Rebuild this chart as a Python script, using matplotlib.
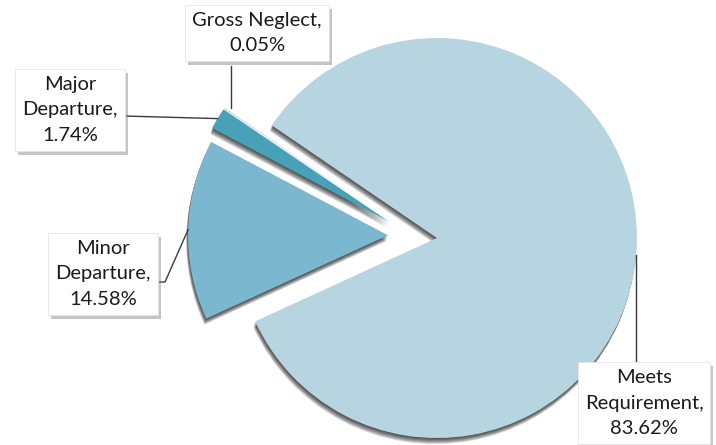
import numpy as np
import matplotlib.pyplot as plt
import matplotlib.patheffects as pe
from matplotlib.patches import Wedge

plt.rcParams['font.family'] = ['Lato', 'DejaVu Sans']

# --- data ---
labels = ['Meets\nRequirement', 'Minor\nDeparture', 'Major\nDeparture', 'Gross Neglect']
values = [83.62, 14.58, 1.74, 0.05]
colors = ['#b7d5e0', '#7bb8cf', '#47a1b8', '#a6d3e0']
explode = [0.12, 0.125, 0.14, 0.14]   # fraction of radius

# label box centres (pixels, y up)
label_pos = [(644, 42), (103, 171), (70, 335), (257, 412)]

R = 200
fig = plt.figure(figsize=(7.16, 4.45), dpi=100)
ax = fig.add_axes([0, 0, 1, 1])

wedges, _ = ax.pie(values, colors=colors, explode=[e * R for e in explode],
                   startangle=145.7, counterclock=False, radius=R,
                   center=(413, 209),
                   wedgeprops=dict(linewidth=0, zorder=3))

# soft drop shadow under each slice (stacked translucent copies)
for w in wedges:
    for k in range(1, 7):
        sh = Wedge((w.center[0] - 0.3 * k, w.center[1] - k), w.r,
                   w.theta1, w.theta2, facecolor='black', alpha=0.16,
                   linewidth=0, zorder=2)
        ax.add_patch(sh)

# labels with leader lines
for i, w in enumerate(wedges):
    mid = np.deg2rad((w.theta1 + w.theta2) / 2)
    ax_x = w.center[0] + w.r * np.cos(mid)
    ax_y = w.center[1] + w.r * np.sin(mid)
    tx, ty = label_pos[i]
    txt = f'{labels[i]},\n{values[i]:.2f}%'
    t = ax.text(tx, ty, txt, ha='center', va='center', multialignment='center',
                fontsize=14.5, color='#1a1a1a', linespacing=1.6, zorder=6,
                bbox=dict(boxstyle='square,pad=0.35', facecolor='white',
                          edgecolor='#e4e4e4', linewidth=0.6))
    t.get_bbox_patch().set_path_effects(
        [pe.withSimplePatchShadow(offset=(2, -3), shadow_rgbFace='#808080', alpha=0.45)])
    if i == 0:
        xs, ys = [ax_x, ax_x], [ax_y, 83]
    elif i == 1:
        xs, ys = [157, 165, ax_x], [163, 163, ax_y]
    elif i == 2:
        xs, ys = [124, ax_x], [329, ax_y]
    else:
        xs, ys = [231, 231], [379, ax_y]
    ax.plot(xs, ys, color='#3a3a3a', lw=1, zorder=5)

ax.set_xlim(0, 716)
ax.set_ylim(0, 445)
ax.set_aspect('auto')
ax.axis('off')

fig.savefig('out.png', dpi=100)
